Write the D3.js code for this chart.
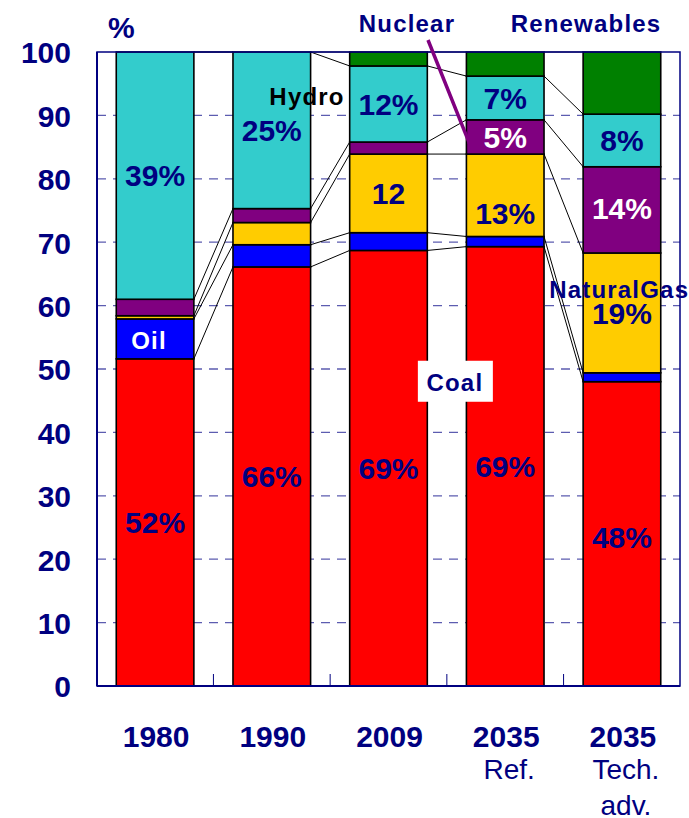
<!DOCTYPE html>
<html>
<head>
<meta charset="utf-8">
<script src="https://cdn.jsdelivr.net/npm/d3@7"></script>
<style>
  body { margin: 0; background: #fff; }
  text { font-family: "Liberation Sans", Arial, sans-serif; }
</style>
</head>
<body>
<svg id="chart" width="689" height="818"></svg>
<script>
// categories on the x axis
const years = ['1980', '1990', '2009', '2035', '2035 '];
const subLabels = [[], [], [], ['Ref.'], ['Tech.', 'adv.']];

// share of each source in %
const coal = [51.6, 66.1, 68.7, 69.3, 48.0];
const oil = [6.3, 3.5, 2.8, 1.6, 1.4];
const gas = [0.5, 3.5, 12.4, 13.0, 18.9];
const nuclear = [2.6, 2.2, 1.9, 5.4, 13.6];
const hydro = [39.0, 24.7, 12.0, 6.9, 8.3];
const renewables = [0, 0, 2.2, 3.8, 9.8];

const seriesKeys = ['coal', 'oil', 'gas', 'nuclear', 'hydro', 'renewables'];
const yTicks = [0, 10, 20, 30, 40, 50, 60, 70, 80, 90, 100];

// labels inside the bars: [bar index, series, text, colour, extra shift px]
const barLabels = [
  [0, 'coal', '52%', '#000080', 0],
  [0, 'hydro', '39%', '#000080', 0],
  [1, 'coal', '66%', '#000080', 0],
  [1, 'hydro', '25%', '#000080', 0],
  [2, 'coal', '69%', '#000080', 0],
  [2, 'gas', '12', '#000080', 0],
  [2, 'hydro', '12%', '#000080', 0],
  [3, 'coal', '69%', '#000080', 0],
  [3, 'gas', '13%', '#000080', 18],
  [3, 'nuclear', '5%', '#ffffff', 0],
  [3, 'hydro', '7%', '#000080', 0],
  [4, 'coal', '48%', '#000080', 3],
  [4, 'gas', '19%', '#000080', 0],
  [4, 'nuclear', '14%', '#ffffff', -2],
  [4, 'hydro', '8%', '#000080', 0]
];

const table = years.map((y, i) => ({
  year: y,
  coal: coal[i], oil: oil[i], gas: gas[i],
  nuclear: nuclear[i], hydro: hydro[i], renewables: renewables[i]
}));

const svg = d3.select('#chart');
const margin = { top: 52, right: 9, bottom: 132, left: 97 };
const width = +svg.attr('width');
const height = +svg.attr('height');
const innerWidth = width - margin.left - margin.right;
const innerHeight = height - margin.top - margin.bottom;

const navy = '#000080';
const color = d3.scaleOrdinal()
  .domain(seriesKeys)
  .range(['#ff0000', '#0000ff', '#ffcc00', '#800080', '#33cccc', '#008000']);

const x = d3.scaleBand()
  .domain(years)
  .range([0, innerWidth])
  .paddingInner(0.335)
  .paddingOuter(0.165);

const y = d3.scaleLinear()
  .domain([0, 100])
  .range([innerHeight, 0]);

const stacked = d3.stack().keys(seriesKeys)(table);

const g = svg.append('g')
  .attr('transform', `translate(${margin.left}, ${margin.top})`);

// dashed gridlines
g.append('g')
  .selectAll('line')
  .data(yTicks.filter(t => t > 0 && t < 100))
  .join('line')
    .attr('x1', 0)
    .attr('x2', innerWidth)
    .attr('y1', d => y(d))
    .attr('y2', d => y(d))
    .attr('stroke', '#5c5cb0')
    .attr('stroke-width', 1.3)
    .attr('stroke-dasharray', '9,7');

// connector lines between neighbouring bars
const bw = x.bandwidth();
const connectors = [];
stacked.forEach(layer => {
  for (let i = 0; i < years.length - 1; i++) {
    connectors.push({ a: layer[i][1], b: layer[i + 1][1], i: i });
  }
});
g.append('g')
  .selectAll('line')
  .data(connectors)
  .join('line')
    .attr('x1', d => x(years[d.i]) + bw)
    .attr('x2', d => x(years[d.i + 1]))
    .attr('y1', d => y(d.a))
    .attr('y2', d => y(d.b))
    .attr('stroke', '#000')
    .attr('stroke-width', 1);

// stacked bars
g.append('g')
  .selectAll('g')
  .data(stacked)
  .join('g')
    .attr('fill', d => color(d.key))
  .selectAll('rect')
  .data(d => d.filter(s => s[1] - s[0] > 0))
  .join('rect')
    .attr('x', d => x(d.data.year))
    .attr('y', d => y(d[1]))
    .attr('width', bw)
    .attr('height', d => y(d[0]) - y(d[1]))
    .attr('stroke', '#000')
    .attr('stroke-width', 1.6);

// frame: top and right thin, left and bottom axis
g.append('rect')
  .attr('x', 0).attr('y', 0)
  .attr('width', innerWidth).attr('height', innerHeight)
  .attr('fill', 'none')
  .attr('stroke', navy)
  .attr('stroke-width', 1.5);
g.append('line')
  .attr('x1', 0).attr('x2', 0).attr('y1', 0).attr('y2', innerHeight)
  .attr('stroke', navy).attr('stroke-width', 2);
g.append('line')
  .attr('x1', 0).attr('x2', innerWidth).attr('y1', innerHeight).attr('y2', innerHeight)
  .attr('stroke', navy).attr('stroke-width', 2);

// small ticks between categories on the bottom axis
g.append('g')
  .selectAll('line')
  .data(years.slice(1))
  .join('line')
    .attr('x1', d => x(d) - x.step() * x.paddingInner() / 2)
    .attr('x2', d => x(d) - x.step() * x.paddingInner() / 2)
    .attr('y1', innerHeight)
    .attr('y2', innerHeight - 12)
    .attr('stroke', navy)
    .attr('stroke-width', 1);

// y axis labels
const yAxis = g.append('g')
  .call(d3.axisLeft(y).tickValues(yTicks).tickSize(0).tickPadding(26));
yAxis.select('.domain').remove();
yAxis.selectAll('text')
  .attr('fill', navy)
  .attr('dy', '0.36em')
  .style('font-family', '"Liberation Sans", Arial, sans-serif')
  .style('font-size', '30px')
  .style('font-weight', 'bold');

// x labels
const xl = g.append('g').selectAll('g')
  .data(years)
  .join('g')
    .attr('transform', d => `translate(${x(d) + bw / 2 + 1}, ${innerHeight})`);
xl.append('text')
  .attr('y', 61)
  .attr('text-anchor', 'middle')
  .attr('fill', navy)
  .style('font-size', '30px')
  .style('font-weight', 'bold')
  .text(d => d.trim());
xl.each(function(d, i) {
  d3.select(this).selectAll('text.sub')
    .data(subLabels[i])
    .join('text')
      .attr('class', 'sub')
      .attr('x', 3)
      .attr('y', (s, j) => 93 + j * 36)
      .attr('text-anchor', 'middle')
      .attr('fill', navy)
      .style('font-size', '28px')
      .text(s => s);
});

// value labels inside bars
const layerOf = key => stacked.find(l => l.key === key);
g.append('g')
  .selectAll('text')
  .data(barLabels)
  .join('text')
    .attr('x', d => x(years[d[0]]) + bw / 2)
    .attr('y', d => {
      const s = layerOf(d[1])[d[0]];
      return y((s[0] + s[1]) / 2) + d[4];
    })
    .attr('dy', '0.36em')
    .attr('text-anchor', 'middle')
    .attr('fill', d => d[3])
    .style('font-size', '30px')
    .style('font-weight', 'bold')
    .text(d => d[2]);

// series annotations
const note = (tx, ty, txt, fill, anchor) => g.append('text')
  .attr('x', tx).attr('y', ty)
  .attr('text-anchor', anchor || 'start')
  .attr('fill', fill)
  .style('font-size', '24px')
  .style('font-weight', 'bold')
  .style('letter-spacing', '1.2px')
  .text(txt);

// unit label
g.append('text')
  .attr('x', 11).attr('y', -14)
  .attr('fill', navy)
  .style('font-size', '30px')
  .style('font-weight', 'bold')
  .text('%');

// Oil, in the 1980 bar
note(x(years[0]) + bw / 2 - 6, y(54.5) + 9, 'Oil', '#fff', 'middle');

// Hydro, next to the 1990 bar
note(x(years[2]) - 5, y(93) + 9, 'Hydro', '#000', 'end');

// Coal on a white box between 2009 and 2035
const coalX = x(years[2]) + bw + (x(years[3]) - x(years[2]) - bw) / 2 + 8;
g.append('rect')
  .attr('x', coalX - 37).attr('y', y(51.3))
  .attr('width', 75).attr('height', 41)
  .attr('fill', '#fff');
note(coalX, y(51.3) + 30, 'Coal', navy, 'middle');

// NaturalGas over the last bar
note(x(years[4]) - 34, y(62.6) + 9, 'NaturalGas', navy, 'start');

// Nuclear with pointer, Renewables
g.append('line')
  .attr('x1', 331).attr('y1', -12)
  .attr('x2', x(years[3]) + 3).attr('y2', y(85.6))
  .attr('stroke', '#800080')
  .attr('stroke-width', 3.5);
note(310, -20, 'Nuclear', navy, 'middle');
note(489, -20, 'Renewables', navy, 'middle');
</script>
</body>
</html>
